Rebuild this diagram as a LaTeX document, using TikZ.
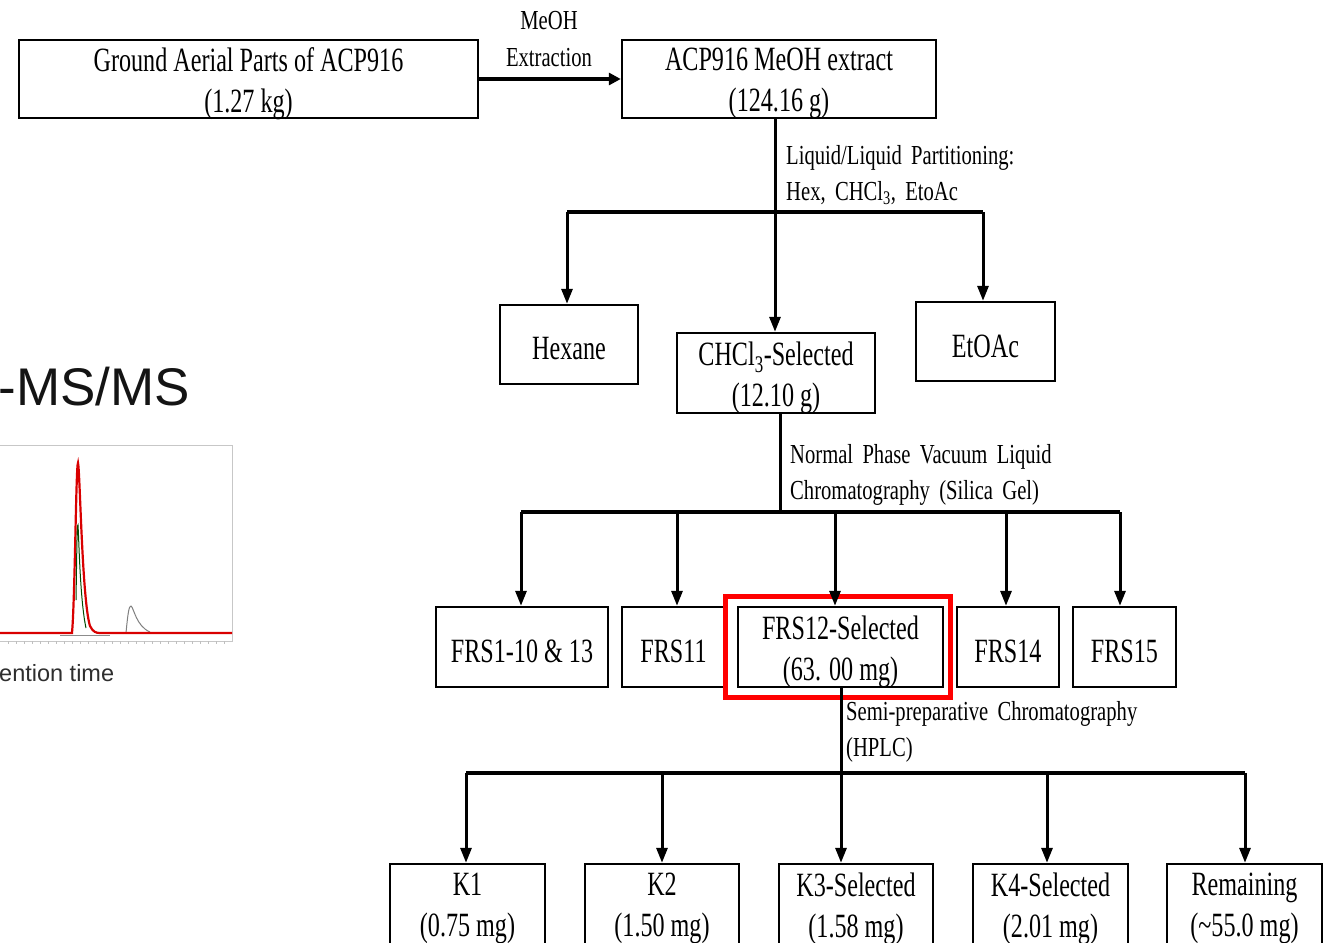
\documentclass[tikz,border=0pt]{standalone}
\usepackage{fontspec}
\usetikzlibrary{arrows.meta,calc}
\newfontfamily\tnrbox[FakeStretch=0.71]{Liberation Serif}
\newfontfamily\tnrlbl[FakeStretch=0.75,WordSpace=1.8]{Liberation Serif}
\newfontfamily\arialf{Liberation Sans}
\begin{document}
\begin{tikzpicture}[x=1pt,y=-1pt,
  box/.style={draw, line width=2.4pt, rectangle, inner sep=0pt},
  boxtxt/.style={inner sep=0pt, align=center, yshift=-4.5pt,
    font=\tnrbox\fontsize{34}{41}\selectfont},
  lbl/.style={inner sep=0pt, font=\tnrlbl\fontsize{27.5}{36.5}\selectfont},
  conn/.style={line width=3pt},
  bar/.style={line width=4pt},
  arr/.style={line width=3pt, -{Triangle[width=11pt,length=15pt]}},
  hl/.style={draw=red, line width=5pt},
]
\useasboundingbox (0,0) rectangle (1332,942);
\clip (0,0) rectangle (1332,942);
\fill[white] (0,0) rectangle (1332,942);

% ---- left fragment of another figure ----
\node[anchor=base east, inner sep=0pt, text=black!92, font=\arialf\fontsize{53}{60}\selectfont] (ms) at (190,405) {-MS/MS};
\draw[black!22, line width=1pt] (-5,445) rectangle (232,641);
\foreach \t in {8,16,...,224} \draw[black!25, line width=0.6pt] (\t,641) -- (\t,644);
\draw[black!45, line width=1pt] (60,635) -- (110,635);
\draw[black!50, line width=1pt] (122,633) -- (126,633) .. controls (128,612) and (129,606) .. (131,606) .. controls (134,608) and (136,626) .. (150,632);
\draw[red!85!black, line width=2.2pt] (-5,633) -- (72,633) .. controls (75,600) and (76,463) .. (78,463) .. controls (80,470) and (82,600) .. (90,626) .. controls (93,632) and (96,633) .. (100,633) -- (232,633);
\draw[green!30!black, line width=1pt] (76,600) .. controls (77,540) and (77,525) .. (78,525) .. controls (79,540) and (80,600) .. (86,628);
\node[anchor=base west, inner sep=0pt, text=black!82, font=\arialf\fontsize{23.5}{26}\selectfont] (rt) at (-1,681) {ention time};

% ---- flow chart ----
\node[box, minimum width=459pt, minimum height=78pt, label={[boxtxt]center:{Ground Aerial Parts of ACP916\\(1.27 kg)}}] (ground) at (248.5,79) {};
\node[box, minimum width=314pt, minimum height=78pt, label={[boxtxt]center:{ACP916 MeOH extract\\(124.16 g)}}] (extract) at (779,79) {};
\draw[line width=4pt, -{Triangle[width=12pt,length=12pt]}] (ground.east) -- (extract.west);
\node[lbl, align=center] (meoh) at (549,39) {MeOH\\Extraction};

\node[box, minimum width=138pt, minimum height=79pt, label={[boxtxt]center:{Hexane}}] (hex) at (569,344.5) {};
\node[box, minimum width=198pt, minimum height=80pt, label={[boxtxt]center:{CHCl\textsubscript{3}-Selected\\(12.10 g)}}] (chcl) at (776,373) {};
\node[box, minimum width=139pt, minimum height=79pt, label={[boxtxt]center:{EtOAc}}] (etoac) at (985.5,341.5) {};

\coordinate (s1) at (775,118);
\coordinate (j1) at (775,212);
\coordinate (j1l) at (567,212);
\coordinate (j1r) at (983,212);
\draw[conn] (s1) -- (j1);
\draw[bar] (j1l) -- (j1r);
\draw[arr] (j1) -- (j1 |- chcl.north);
\draw[arr] (j1l) -- (j1l |- hex.north);
\draw[arr] (j1r) -- (j1r |- etoac.north);
\node[lbl, anchor=west, align=left] (part) at (786,175) {Liquid/Liquid Partitioning:\\Hex, CHCl\textsubscript{3}, EtoAc};

\node[box, minimum width=172pt, minimum height=80pt, label={[boxtxt]center:{FRS1-10 \& 13}}] (frsa) at (522,647) {};
\node[box, minimum width=103pt, minimum height=80pt, label={[boxtxt]center:{FRS11}}] (frsb) at (673.5,647) {};
\node[box, minimum width=205pt, minimum height=80pt, label={[boxtxt]center:{FRS12-Selected\\(63. 00 mg)}}] (frsc) at (840.5,647) {};
\node[box, minimum width=102pt, minimum height=80pt, label={[boxtxt]center:{FRS14}}] (frsd) at (1008,647) {};
\node[box, minimum width=103pt, minimum height=80pt, label={[boxtxt]center:{FRS15}}] (frse) at (1124.5,647) {};
\node[hl, minimum width=225pt, minimum height=101pt, inner sep=0pt] (sel) at (837.5,646.5) {};

\coordinate (s2) at (780,413);
\coordinate (j2) at (780,512);
\coordinate (j2a) at (521,512);
\coordinate (j2b) at (677,512);
\coordinate (j2c) at (835,512);
\coordinate (j2d) at (1006,512);
\coordinate (j2e) at (1120,512);
\draw[conn] (s2) -- (j2);
\draw[bar] (j2a) -- (j2e);
\draw[arr] (j2a) -- (j2a |- frsa.north);
\draw[arr] (j2b) -- (j2b |- frsb.north);
\draw[arr] (j2c) -- (j2c |- frsc.north);
\draw[arr] (j2d) -- (j2d |- frsd.north);
\draw[arr] (j2e) -- (j2e |- frse.north);
\node[lbl, anchor=west, align=left] (vlc) at (790,475) {Normal Phase Vacuum Liquid\\Chromatography (Silica Gel)};

\node[box, minimum width=155pt, minimum height=80pt, label={[boxtxt]center:{K1\\(0.75 mg)}}] (ka) at (467.5,904) {};
\node[box, minimum width=154pt, minimum height=80pt, label={[boxtxt]center:{K2\\(1.50 mg)}}] (kb) at (662,904) {};
\node[box, minimum width=154pt, minimum height=80pt, label={[boxtxt]center:{K3-Selected\\(1.58 mg)}}] (kc) at (856,904) {};
\node[box, minimum width=155pt, minimum height=80pt, label={[boxtxt]center:{K4-Selected\\(2.01 mg)}}] (kd) at (1050.5,904) {};
\node[box, minimum width=155pt, minimum height=80pt, label={[boxtxt]center:{Remaining\\(\textasciitilde55.0 mg)}}] (ke) at (1244.5,904) {};

\coordinate (s3) at (841,687);
\coordinate (j3) at (841,773);
\coordinate (j3a) at (466,773);
\coordinate (j3b) at (662,773);
\coordinate (j3d) at (1047,773);
\coordinate (j3e) at (1245,773);
\draw[conn] (s3) -- (j3);
\draw[bar] (j3a) -- (j3e);
\draw[arr] (j3a) -- (j3a |- ka.north);
\draw[arr] (j3b) -- (j3b |- kb.north);
\draw[arr] (j3) -- (j3 |- kc.north);
\draw[arr] (j3d) -- (j3d |- kd.north);
\draw[arr] (j3e) -- (j3e |- ke.north);
\node[lbl, anchor=west, align=left] (hplc) at (846,732) {Semi-preparative Chromatography\\(HPLC)};
\end{tikzpicture}
\end{document}
